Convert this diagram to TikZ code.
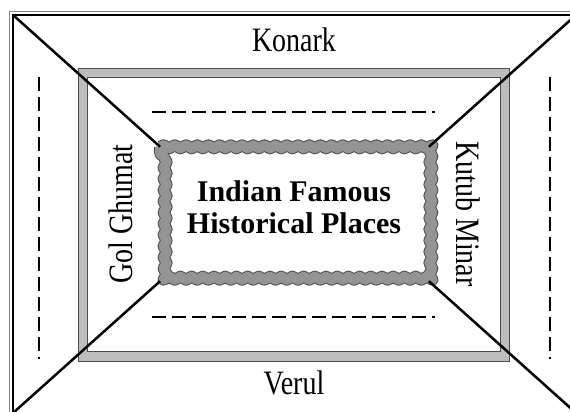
\documentclass[tikz,border=0pt]{standalone}
\usepackage{fontspec}
\setmainfont{Liberation Serif}
\usetikzlibrary{decorations.pathmorphing}

\definecolor{bandgray}{gray}{0.74}
\definecolor{wavegray}{gray}{0.58}
\definecolor{edgegray}{gray}{0.3}

\newcommand{\tallword}[1]{\scalebox{1}[1.22]{#1}}

\begin{document}
\begin{tikzpicture}[x=1pt,y=-1pt,
  place/.style={font=\fontsize{28}{30}\selectfont, inner sep=0pt},
  theme/.style={font=\fontsize{30}{32}\selectfont\bfseries, align=center, inner sep=0pt},
  guide/.style={line width=2.5pt, dash pattern=on 14pt off 6pt},
  spoke/.style={line width=2.5pt},
  wave/.style={decorate, line join=round,
    decoration={snake, amplitude=1.5pt, segment length=11.2pt}}]
\useasboundingbox (0,0) rectangle (570,412);
\begin{scope}
\clip (0,0) rectangle (570,412);
% outer frame
\draw[gray, line width=1pt] (9,12) rectangle (580,417);
\draw[line width=2.5pt] (13,15) rectangle (576,413);
\coordinate (o1) at (13,15);
\coordinate (o2) at (576,15);
\coordinate (o3) at (576,413);
\coordinate (o4) at (13,413);

% middle frame
\draw[edgegray, line width=10.5pt] (83,73) rectangle (505,356.5);
\draw[bandgray, line width=8.5pt] (83,73) rectangle (505,356.5);

% wavy frame round the title
\coordinate (w1) at (160.1,146.8);
\coordinate (w2) at (428.9,146.8);
\coordinate (w3) at (428.9,281.2);
\coordinate (w4) at (160.1,281.2);
\draw[edgegray, line width=12pt, wave] (w1) -- (w2) -- (w3) -- (w4) -- cycle;
\draw[wavegray, line width=10pt, wave] (w1) -- (w2) -- (w3) -- (w4) -- cycle;

% spokes to the corners
\draw[spoke] (o1) -- (w1);
\draw[spoke] (o2) -- (w2);
\draw[spoke] (o3) -- (w3);
\draw[spoke] (o4) -- (w4);

% writing lines
\draw[guide] (39,77) -- (39,359);
\draw[guide] (550,77) -- (550,359);
\draw[guide] (152,112) -- (435,112);
\draw[guide] (152,317) -- (435,317);
\end{scope}

\node[place] (konark) at (294,40) {\tallword{Konark}};
\node[place] (verul) at (294,383) {\tallword{Verul}};
\node[place, rotate=90] (golghumat) at (121,214) {\tallword{Gol Ghumat}};
\node[place, rotate=-90] (kutubminar) at (468,214) {\tallword{Kutub Minar}};
\node[theme] (title) at (294,207) {Indian Famous\\Historical Places};
\end{tikzpicture}
\end{document}
